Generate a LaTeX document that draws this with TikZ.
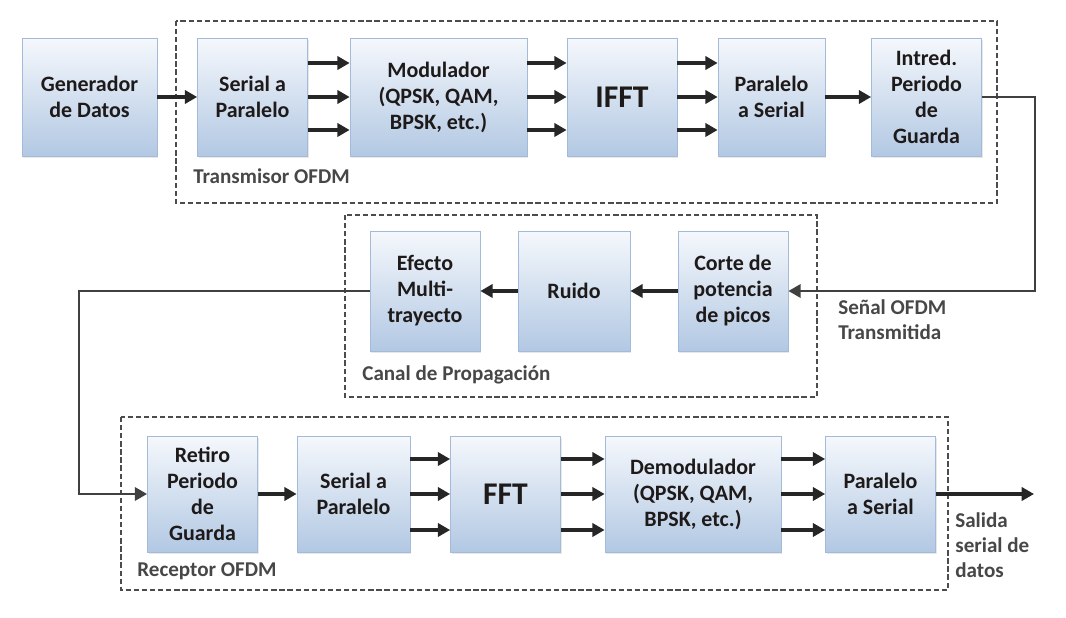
\documentclass[tikz,border=0pt]{standalone}
\usepackage{fontspec}
\setmainfont{Carlito}
\usepackage{tikz}
\usetikzlibrary{shapes,arrows.meta,positioning,calc,shadows}

\definecolor{boxtop}{HTML}{F5F8FC}
\definecolor{boxbot}{HTML}{B2C8E3}
\definecolor{boxedge}{HTML}{A3BAD8}
\definecolor{inktxt}{HTML}{1F1A1A}

\tikzset{
  block/.style={rectangle, draw=boxedge, top color=boxtop, bottom color=boxbot,
    minimum width=2.2cm, minimum height=2.36cm, align=center, inner sep=2pt,
    font=\bfseries\fontsize{12.5}{14.8}\selectfont, text=inktxt,
    drop shadow={opacity=0.18, shadow xshift=0.8pt, shadow yshift=-1.2pt}},
  bigblock/.style={block, font=\bfseries\fontsize{18}{20}\selectfont},
  group/.style={draw=black!70, line width=0.9pt, dash pattern=on 3pt off 1.6pt},
  flow/.style={-{Triangle[length=7pt,width=7.5pt]}, line width=1.8pt, black!85},
  feed/.style={-{Triangle[length=7pt,width=7.5pt]}, line width=1.6pt, black!75},
  tag/.style={font=\bfseries\fontsize{12}{14.2}\selectfont, text=black!72,
    align=left, anchor=west, inner sep=0pt},
}

\begin{document}
\begin{tikzpicture}[x=0.02cm, y=-0.02cm]
\useasboundingbox (0,0) rectangle (1066,618);
% groups
\draw[group] (176,21) rectangle (997,203);
\draw[group] (345,215) rectangle (817,397);
\draw[group] (121,417) rectangle (948,590);
\node[tag] (txlbl) at (193,176) {Transmisor OFDM};
\node[tag] (chlbl) at (362,375) {Canal de Propagación};
\node[tag] (rxlbl) at (137,571) {Receptor OFDM};

% transmitter
\node[block, minimum width=2.7cm] (gen) at (89.5,97) {Generador\\de Datos};
\node[block] (sp1) at (252.5,97) {Serial a\\Paralelo};
\node[block, minimum width=3.54cm] (mod) at (438.5,97) {Modulador\\(QPSK, QAM,\\BPSK, etc.)};
\node[bigblock] (ifft) at (622,97) {IFFT};
\node[block, minimum width=2.14cm] (ps1) at (771.5,97) {Paralelo\\a Serial};
\node[block] (intr) at (926.5,97) {Intred.\\Periodo\\de\\Guarda};

% channel
\node[block, minimum height=2.4cm] (efecto) at (425,291) {Efecto\\Multi-\\trayecto};
\node[block, minimum width=2.24cm, minimum height=2.4cm] (ruido) at (574,291) {Ruido};
\node[block, minimum height=2.4cm] (corte) at (733,291) {Corte de\\potencia\\de picos};
\node[tag] (senal) at (838,320) {Señal OFDM\\Transmitida};

% receiver
\node[block, minimum height=2.32cm] (retiro) at (202.5,494) {Retiro\\Periodo\\de\\Guarda};
\node[block, minimum width=2.26cm, minimum height=2.32cm] (sp2) at (353.5,494) {Serial a\\Paralelo};
\node[bigblock, minimum height=2.32cm] (fft) at (505.5,494) {FFT};
\node[block, minimum width=3.52cm, minimum height=2.32cm] (demod) at (693,494) {Demodulador\\(QPSK, QAM,\\BPSK, etc.)};
\node[block, minimum height=2.32cm] (ps2) at (880.5,494) {Paralelo\\a Serial};
\node[tag] (salida) at (955,545) {Salida\\serial de\\datos};

% single connectors
\draw[flow] (gen) -- (sp1);
\draw[flow] (ps1) -- (intr);
\draw[flow] (corte) -- (ruido);
\draw[flow] (ruido) -- (efecto);
\draw[flow] (retiro) -- (sp2);

% parallel connectors
\foreach \a/\b in {sp1/mod, mod/ifft, ifft/ps1}
  \foreach \d in {0.68,0,-0.66}
    \draw[flow] ([yshift=\d cm]\a.east) -- ([yshift=\d cm]\b.west);
\foreach \a/\b in {sp2/fft, fft/demod, demod/ps2}
  \foreach \d in {0.7,0,-0.72}
    \draw[flow] ([yshift=\d cm]\a.east) -- ([yshift=\d cm]\b.west);

% links between groups
\coordinate (bendr) at (1035,0);
\coordinate (bendl) at (79,0);
\coordinate (out) at (1034,494);
\draw[feed] (intr.east) -- (intr.east -| bendr) |- (corte.east);
\draw[feed] (efecto.west) -- (efecto.west -| bendl) |- (retiro.west);
\draw[flow] (ps2.east) -- (out);
\end{tikzpicture}
\end{document}
